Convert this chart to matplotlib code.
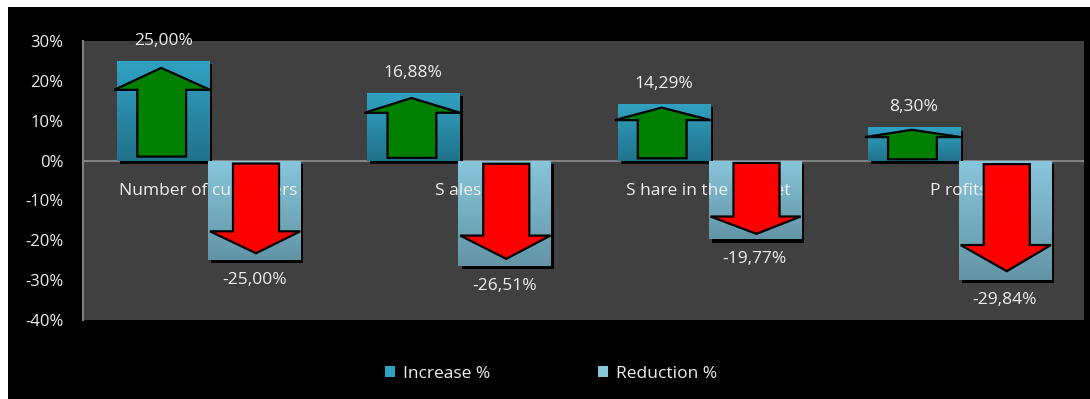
import matplotlib
matplotlib.use("Agg")
import matplotlib.pyplot as plt
import numpy as np
from matplotlib.patches import Polygon, Rectangle, Patch
from matplotlib import patheffects as pe
from matplotlib.colors import LinearSegmentedColormap

# ---- data ----
categories = ["Number of customers", "S ales", "S hare in the market", "P rofits"]
increase = [25.00, 16.88, 14.29, 8.30]
reduction = [-25.00, -26.51, -19.77, -29.84]
series_names = ["Increase %", "Reduction %"]
yticks = [-40, -30, -20, -10, 0, 10, 20, 30]

# ---- style ----
plt.rcParams['font.family'] = ['Open Sans', 'DejaVu Sans']
TXT = '#f0f0f0'
INC_TOP, INC_BOT = '#31a2c2', '#21728c'
RED_TOP, RED_BOT = '#88c6dc', '#6294a5'
FS = 12.5
FS_TICK = 12

W, H, DPI = 1090, 399, 100
fig = plt.figure(figsize=(W / DPI, H / DPI), dpi=DPI, facecolor='white')
fig.patches.append(Rectangle((8 / W, 0), 1 - 8 / W, 1 - 7 / H, transform=fig.transFigure,
                             facecolor='black', edgecolor='none', zorder=-10))

ax = fig.add_axes([83 / W, 1 - 320 / H, (1084 - 83) / W, (320 - 41) / H])
ax.set_facecolor('#404040')

x = np.arange(len(categories))
bw = 0.368

shadow = [pe.SimplePatchShadow(offset=(2.3, -2.3), shadow_rgbFace='black', alpha=1.0), pe.Normal()]

inc_bars = ax.bar(x - 0.364, increase, width=bw, align='edge', color=INC_BOT, zorder=2)
red_bars = ax.bar(x, reduction, width=bw, align='edge', color=RED_BOT, zorder=2)


def gradient_fill(rect, top, bottom):
    rect.set_path_effects(shadow)
    x0, x1 = rect.get_x(), rect.get_x() + rect.get_width()
    y_a, y_b = rect.get_y(), rect.get_y() + rect.get_height()
    lo, hi = min(y_a, y_b), max(y_a, y_b)
    cmap = LinearSegmentedColormap.from_list('g', [bottom, top])
    grad = np.linspace(0, 1, 256).reshape(-1, 1)
    im = ax.imshow(grad, cmap=cmap, extent=(x0, x1, lo, hi), origin='lower',
                   aspect='auto', zorder=2.5, interpolation='bilinear')
    im.set_clip_path(rect)


for r in inc_bars:
    gradient_fill(r, INC_TOP, INC_BOT)
for r in red_bars:
    gradient_fill(r, RED_TOP, RED_BOT)

# arrows inside the bars
for r, v in zip(inc_bars, increase):
    x0, w = r.get_x(), r.get_width()
    h = v
    pts = [(x0 + 0.22 * w, 0.04 * h), (x0 + 0.75 * w, 0.04 * h), (x0 + 0.75 * w, 0.71 * h),
           (x0 + 1.01 * w, 0.71 * h), (x0 + 0.48 * w, 0.93 * h), (x0 - 0.03 * w, 0.71 * h),
           (x0 + 0.22 * w, 0.71 * h)]
    ax.add_patch(Polygon(pts, closed=True, facecolor='#008000', edgecolor='black',
                         lw=1.6, joinstyle='miter', zorder=4))

for r, v in zip(red_bars, reduction):
    x0, w = r.get_x(), r.get_width()
    h = -v
    pts = [(x0 + 0.27 * w, -0.03 * h), (x0 + 0.77 * w, -0.03 * h), (x0 + 0.77 * w, -0.71 * h),
           (x0 + 1.0 * w, -0.71 * h), (x0 + 0.52 * w, -0.93 * h), (x0 + 0.02 * w, -0.71 * h),
           (x0 + 0.27 * w, -0.71 * h)]
    ax.add_patch(Polygon(pts, closed=True, facecolor='#ff0000', edgecolor='black',
                         lw=1.6, joinstyle='miter', zorder=4))


def fmt(v):
    return f"{v:.2f}".replace('.', ',') + '%'


for r, v in zip(inc_bars, increase):
    ax.annotate(fmt(v), xy=(r.get_x() + r.get_width() / 2, v), xytext=(0, 14.4),
                textcoords='offset points', ha='center', va='center', color=TXT,
                fontsize=FS, zorder=5, annotation_clip=False)
for r, v in zip(red_bars, reduction):
    ax.annotate(fmt(v), xy=(r.get_x() + r.get_width() / 2, v), xytext=(0, -14.4),
                textcoords='offset points', ha='center', va='center', color=TXT,
                fontsize=FS, zorder=5, annotation_clip=False)

# category names just under the zero line
for xi, name in zip(x, categories):
    ax.annotate(name, xy=(xi, 0), xytext=(0, -21.6), textcoords='offset points',
                ha='center', va='center', color=TXT, fontsize=FS, zorder=3)

ax.axhline(0, color='#808080', lw=1.5, zorder=1)

ax.set_xlim(-0.5, len(categories) - 0.5)
ax.set_ylim(-40, 30)
ax.set_yticks(yticks)
ax.set_yticklabels([f"{t}%" for t in yticks])
ax.set_xticks([])
ax.tick_params(axis='y', length=0, pad=14, labelcolor=TXT, labelsize=FS_TICK)
for s in ['top', 'right', 'bottom']:
    ax.spines[s].set_visible(False)
ax.spines['left'].set_color('#808080')
ax.spines['left'].set_linewidth(1.5)

handles = [Patch(facecolor=INC_TOP, edgecolor='none'), Patch(facecolor=RED_TOP, edgecolor='none')]
leg = fig.legend(handles, series_names, loc='center', bbox_to_anchor=(551 / W, 1 - 374 / H),
                 ncol=2, frameon=False, fontsize=FS, labelcolor=TXT,
                 handlelength=0.6, handleheight=0.6, handletextpad=0.45, columnspacing=6.2)

fig.savefig('out.png', dpi=DPI, facecolor=fig.get_facecolor())
